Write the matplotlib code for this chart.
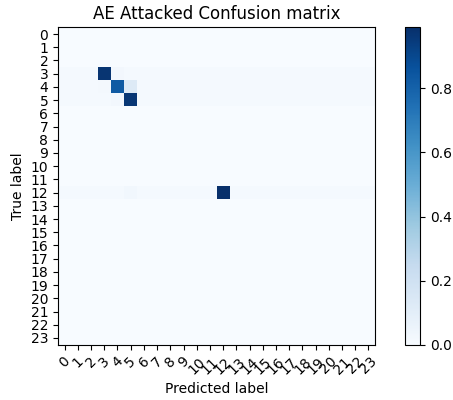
import matplotlib
matplotlib.use('Agg')
import matplotlib.pyplot as plt
import numpy as np

# class labels 0..23
classes = [str(i) for i in range(24)]

# normalized confusion rows that are non-zero
row3 = [0.015, 0.015, 0.015, 0.97, 0.025] + [0.015] * 19
row4 = [0.015, 0.015, 0.015, 0.02, 0.83, 0.13] + [0.015] * 18
row5 = [0.015, 0.015, 0.015, 0.015, 0.025, 0.96] + [0.015] * 18
row12 = [0.015] * 5 + [0.03] + [0.015] * 6 + [0.99] + [0.015] * 11

cm = np.zeros((24, 24))
cm[3] = row3
cm[4] = row4
cm[5] = row5
cm[12] = row12

plt.rcParams['font.size'] = 10
fig = plt.figure(figsize=(4.53, 4.00), dpi=100)
ax = fig.add_axes([0.128, 0.1375, 0.70, 0.795])
im = ax.imshow(cm, interpolation='nearest', cmap=plt.cm.Blues)
ax.set_title('AE Attacked Confusion matrix')

cax = fig.add_axes([0.894, 0.1375, 0.033, 0.795])
fig.colorbar(im, cax=cax)

tick_marks = np.arange(len(classes))
ax.set_xticks(tick_marks)
ax.set_xticklabels(classes, rotation=45)
ax.set_yticks(tick_marks)
ax.set_yticklabels(classes)
ax.set_ylabel('True label')
ax.set_xlabel('Predicted label')

fig.savefig('out.png', dpi=100)
